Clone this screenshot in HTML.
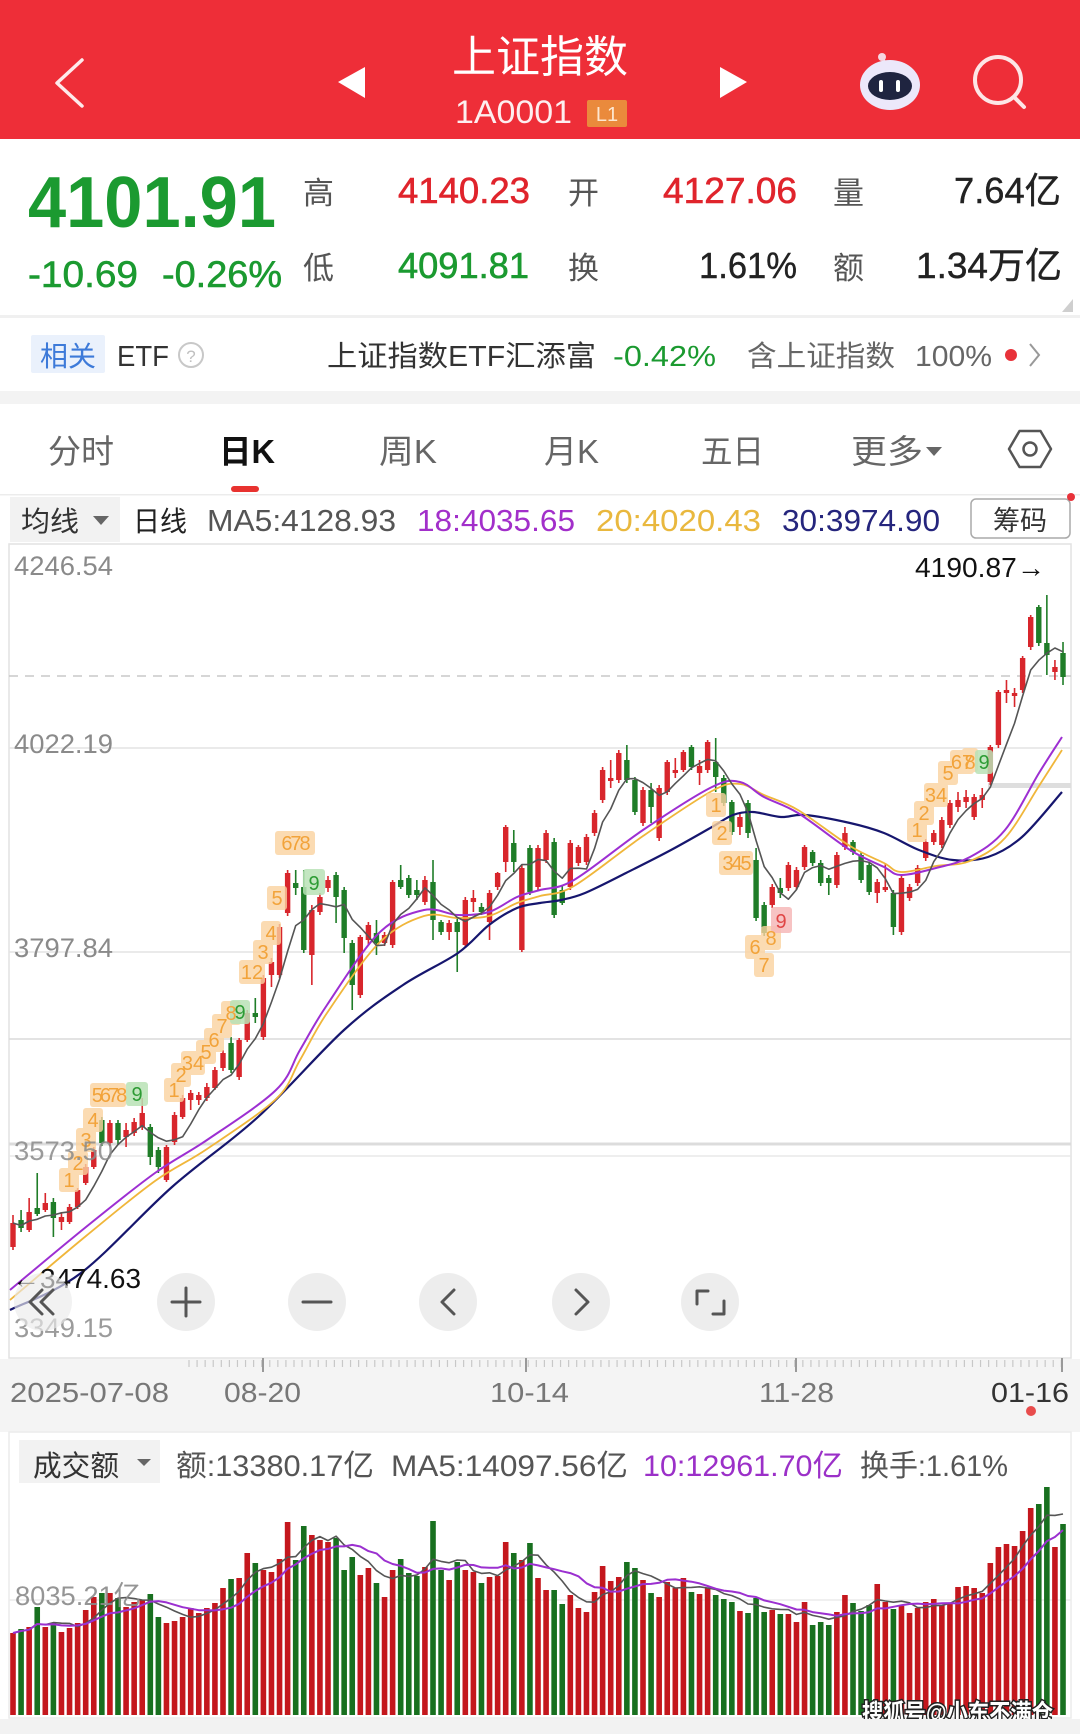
<!DOCTYPE html>
<html><head><meta charset="utf-8"><title>上证指数</title>
<style>
html,body{margin:0;padding:0;background:#fff;width:1080px;height:1734px;overflow:hidden;}
svg text{font-family:"Liberation Sans","Noto Sans CJK SC",sans-serif;}
</style></head>
<body>
<svg id="s" width="1080" height="1734" viewBox="0 0 1080 1734" xmlns="http://www.w3.org/2000/svg">
<defs><clipPath id="cp"><rect x="9" y="544" width="1062" height="814"/></clipPath></defs>
<rect width="1080" height="1734" fill="#fff"/>
<!-- header -->
<rect width="1080" height="139" fill="#ee2e38"/>
<polyline points="82,60 57,83 82,106" fill="none" stroke="#fff" stroke-width="3.5" stroke-linecap="round" stroke-linejoin="round" opacity=".9"/>
<polygon points="365,67 338,82 365,98" fill="#fff"/>
<polygon points="720,67 747,82 720,98" fill="#fff"/>
<text x="540" y="72" font-size="44" fill="#fff" text-anchor="middle">上证指数</text>
<text x="455" y="123" font-size="32" fill="#fff" opacity=".92" textLength="117" lengthAdjust="spacingAndGlyphs">1A0001</text>
<rect x="587" y="100" width="40" height="27" fill="#ea8a3c" rx="2"/>
<text x="607" y="121" font-size="20" fill="#fde7d0" text-anchor="middle">L1</text>
<line x1="883" y1="58" x2="886" y2="64" stroke="#f3d0dc" stroke-width="2"/>
<circle cx="882" cy="57" r="4" fill="#f6d6e0"/>
<ellipse cx="890" cy="85" rx="30" ry="25" fill="#ece8fa"/>
<ellipse cx="890" cy="86" rx="22" ry="14" fill="#1f2440"/>
<rect x="879" y="80" width="4" height="12" rx="2" fill="#fff"/>
<rect x="896" y="80" width="4" height="12" rx="2" fill="#fff"/>
<circle cx="998" cy="80" r="23" fill="none" stroke="#fde6e6" stroke-width="4"/>
<line x1="1014" y1="97" x2="1024" y2="107" stroke="#fde6e6" stroke-width="4" stroke-linecap="round"/>

<!-- quote -->
<text x="28" y="227" font-size="72" font-weight="bold" fill="#1b9a30" textLength="248" lengthAdjust="spacingAndGlyphs">4101.91</text>
<text x="28" y="287" font-size="37" fill="#1b9a30" stroke="#1b9a30" stroke-width=".6" textLength="110" lengthAdjust="spacingAndGlyphs">-10.69</text>
<text x="162" y="287" font-size="37" fill="#1b9a30" stroke="#1b9a30" stroke-width=".6" textLength="120" lengthAdjust="spacingAndGlyphs">-0.26%</text>
<text x="303" y="204" font-size="31" fill="#555">高</text>
<text x="303" y="279" font-size="31" fill="#555">低</text>
<text x="398" y="203" font-size="36" fill="#e0242c" stroke="#e0242c" stroke-width=".6" textLength="132" lengthAdjust="spacingAndGlyphs">4140.23</text>
<text x="398" y="278" font-size="36" fill="#1b9a30" stroke="#1b9a30" stroke-width=".6" textLength="131" lengthAdjust="spacingAndGlyphs">4091.81</text>
<text x="568" y="204" font-size="31" fill="#555">开</text>
<text x="568" y="279" font-size="31" fill="#555">换</text>
<text x="663" y="203" font-size="36" fill="#e0242c" stroke="#e0242c" stroke-width=".6" textLength="134" lengthAdjust="spacingAndGlyphs">4127.06</text>
<text x="699" y="278" font-size="36" fill="#222" stroke="#222" stroke-width=".4" textLength="98" lengthAdjust="spacingAndGlyphs">1.61%</text>
<text x="833" y="204" font-size="31" fill="#555">量</text>
<text x="833" y="279" font-size="31" fill="#555">额</text>
<text x="954" y="203" font-size="36" fill="#222" stroke="#222" stroke-width=".4" textLength="107" lengthAdjust="spacingAndGlyphs">7.64亿</text>
<text x="916" y="278" font-size="36" fill="#222" stroke="#222" stroke-width=".4" textLength="146" lengthAdjust="spacingAndGlyphs">1.34万亿</text>
<polygon points="1073,299 1073,312 1062,312" fill="#cfcfcf"/>
<rect x="0" y="315" width="1080" height="3" fill="#f0f0f0"/>

<!-- ETF row -->
<rect x="31" y="335" width="74" height="38" fill="#eaf1fc" rx="2"/>
<text x="40" y="366" font-size="28" fill="#3d7ad9" textLength="56" lengthAdjust="spacingAndGlyphs">相关</text>
<text x="117" y="366" font-size="29" fill="#333" textLength="52" lengthAdjust="spacingAndGlyphs">ETF</text>
<circle cx="191" cy="355" r="12" fill="none" stroke="#c8c8c8" stroke-width="2"/>
<text x="191" y="362" font-size="17" fill="#c0c0c0" text-anchor="middle">?</text>
<text x="327" y="366" font-size="29" fill="#333" textLength="269" lengthAdjust="spacingAndGlyphs">上证指数ETF汇添富</text>
<text x="613" y="366" font-size="29" fill="#1b9a30" textLength="103" lengthAdjust="spacingAndGlyphs">-0.42%</text>
<text x="747" y="366" font-size="29" fill="#666" textLength="148" lengthAdjust="spacingAndGlyphs">含上证指数</text>
<text x="915" y="366" font-size="29" fill="#666" textLength="77" lengthAdjust="spacingAndGlyphs">100%</text>
<circle cx="1011" cy="355" r="6" fill="#e8323a"/>
<polyline points="1030,344 1039,355 1030,366" stroke="#999" stroke-width="2" fill="none"/>
<rect x="0" y="391" width="1080" height="13" fill="#f3f3f3"/>

<!-- tabs -->
<text x="48" y="463" font-size="33" fill="#666" textLength="66" lengthAdjust="spacingAndGlyphs">分时</text>
<text x="219" y="463" font-size="33" fill="#111" font-weight="bold" textLength="56" lengthAdjust="spacingAndGlyphs">日K</text>
<text x="379" y="463" font-size="33" fill="#666" textLength="58" lengthAdjust="spacingAndGlyphs">周K</text>
<text x="544" y="463" font-size="33" fill="#666" textLength="55" lengthAdjust="spacingAndGlyphs">月K</text>
<text x="701" y="463" font-size="33" fill="#666" textLength="63" lengthAdjust="spacingAndGlyphs">五日</text>
<text x="851" y="463" font-size="33" fill="#666" textLength="72" lengthAdjust="spacingAndGlyphs">更多</text>
<polygon points="926,447 942,447 934,456" fill="#666"/>
<polygon points="1009,449 1019.5,431 1040.5,431 1051,449 1040.5,467 1019.5,467" fill="none" stroke="#555" stroke-width="2.5" stroke-linejoin="round"/>
<circle cx="1030" cy="449" r="6.5" fill="none" stroke="#555" stroke-width="2.5"/>
<rect x="231" y="486" width="28" height="6" rx="3" fill="#e8322f"/>
<rect x="0" y="494" width="1080" height="1.5" fill="#ececec"/>

<!-- MA legend -->
<rect x="10" y="497" width="110" height="45" fill="#f2f2f2"/>
<text x="21" y="531" font-size="28" fill="#333" textLength="58" lengthAdjust="spacingAndGlyphs">均线</text>
<polygon points="93,516 109,516 101,525" fill="#666"/>
<text x="133" y="531" font-size="28" fill="#222" textLength="54" lengthAdjust="spacingAndGlyphs">日线</text>
<text x="207" y="531" font-size="31" fill="#555" textLength="189" lengthAdjust="spacingAndGlyphs">MA5:4128.93</text>
<text x="417" y="531" font-size="31" fill="#a22fca" textLength="158" lengthAdjust="spacingAndGlyphs">18:4035.65</text>
<text x="596" y="531" font-size="31" fill="#e9b83e" textLength="165" lengthAdjust="spacingAndGlyphs">20:4020.43</text>
<text x="782" y="531" font-size="31" fill="#25257d" textLength="158" lengthAdjust="spacingAndGlyphs">30:3974.90</text>
<rect x="971" y="499" width="99" height="39" rx="5" fill="#fff" stroke="#aaa" stroke-width="1.5"/>
<text x="1020" y="530" font-size="27" fill="#333" text-anchor="middle">筹码</text>
<circle cx="1071" cy="497" r="4" fill="#e8323a"/>

<!-- chart frame / grid -->
<rect x="9" y="544" width="1062" height="814" fill="#fff" stroke="#e2e2e2" stroke-width="1.5"/>
<line x1="9" y1="748" x2="1071" y2="748" stroke="#e4e4e4" stroke-width="1.5"/>
<line x1="9" y1="952" x2="1071" y2="952" stroke="#e4e4e4" stroke-width="1.5"/>
<line x1="9" y1="1039" x2="1071" y2="1039" stroke="#dadada" stroke-width="1.5"/>
<line x1="9" y1="1144" x2="1071" y2="1144" stroke="#dcdcdc" stroke-width="3"/>
<line x1="9" y1="1156" x2="1071" y2="1156" stroke="#e8e8e8" stroke-width="1.5"/>
<line x1="9" y1="676" x2="1071" y2="676" stroke="#c8c8c8" stroke-width="1.5" stroke-dasharray="9,7"/>
<rect x="988" y="783" width="83" height="5" fill="#dedede"/>

<g id="cd" clip-path="url(#cp)"></g>

<!-- TD tags -->
<g font-size="20" text-anchor="middle">
<g fill="#fbd3a0" opacity=".8">
<rect x="59" y="1168" width="20" height="24" rx="3"/><rect x="68" y="1151" width="20" height="24" rx="3"/><rect x="76" y="1128" width="20" height="24" rx="3"/><rect x="83" y="1108" width="20" height="24" rx="3"/><rect x="90" y="1083" width="36" height="24" rx="3"/>
<rect x="164" y="1078" width="20" height="24" rx="3"/><rect x="171" y="1063" width="20" height="24" rx="3"/><rect x="181" y="1051" width="24" height="24" rx="3"/><rect x="196" y="1040" width="20" height="24" rx="3"/><rect x="204" y="1028" width="20" height="24" rx="3"/><rect x="212" y="1014" width="20" height="24" rx="3"/><rect x="221" y="1001" width="20" height="24" rx="3"/>
<rect x="239" y="960" width="26" height="24" rx="3"/><rect x="253" y="940" width="20" height="24" rx="3"/><rect x="261" y="921" width="20" height="24" rx="3"/><rect x="267" y="886" width="20" height="24" rx="3"/><rect x="275" y="831" width="40" height="24" rx="3"/>
<rect x="706" y="793" width="20" height="24" rx="3"/><rect x="712" y="821" width="20" height="24" rx="3"/><rect x="719" y="851" width="34" height="24" rx="3"/><rect x="745" y="935" width="20" height="24" rx="3"/><rect x="754" y="953" width="20" height="24" rx="3"/><rect x="761" y="926" width="20" height="24" rx="3"/>
<rect x="907" y="818" width="20" height="24" rx="3"/><rect x="914" y="801" width="20" height="24" rx="3"/><rect x="924" y="783" width="24" height="24" rx="3"/><rect x="938" y="761" width="20" height="24" rx="3"/><rect x="950" y="750" width="24" height="24" rx="3"/><rect x="962" y="748" width="16" height="24" rx="3"/>
</g>
<g fill="#b9e2b6" opacity=".85">
<rect x="126" y="1082" width="22" height="24" rx="3"/><rect x="230" y="1000" width="20" height="24" rx="3"/><rect x="303" y="869" width="22" height="26" rx="3"/><rect x="975" y="750" width="18" height="24" rx="3"/>
</g>
<rect x="771" y="907" width="21" height="26" rx="3" fill="#f6b9b9" opacity=".85"/>
<g fill="#f2a33a">
<text x="69" y="1187">1</text><text x="78" y="1170">2</text><text x="86" y="1147">3</text><text x="93" y="1127">4</text><text x="108" y="1102" letter-spacing="-3">5678</text>
<text x="174" y="1097">1</text><text x="181" y="1082">2</text><text x="193" y="1070">34</text><text x="206" y="1059">5</text><text x="214" y="1047">6</text><text x="222" y="1033">7</text><text x="231" y="1020">8</text>
<text x="252" y="979">12</text><text x="263" y="959">3</text><text x="271" y="940">4</text><text x="277" y="905">5</text><text x="295" y="850" letter-spacing="-2">678</text>
<text x="716" y="812">1</text><text x="722" y="840">2</text><text x="736" y="870" letter-spacing="-2">345</text><text x="755" y="954">6</text><text x="764" y="972">7</text><text x="771" y="945">8</text>
<text x="917" y="837">1</text><text x="924" y="820">2</text><text x="936" y="802">34</text><text x="948" y="780">5</text><text x="962" y="769">67</text><text x="970" y="769">8</text>
</g>
<g fill="#2d9b34"><text x="137" y="1101">9</text><text x="240" y="1019">9</text><text x="314" y="890">9</text><text x="984" y="769">9</text></g>
<text x="781" y="928" fill="#e04545">9</text>
</g>

<!-- axis labels -->
<g font-size="27" fill="#8a8a8a">
<text x="14" y="575" textLength="99" lengthAdjust="spacingAndGlyphs">4246.54</text>
<text x="14" y="753" textLength="99" lengthAdjust="spacingAndGlyphs">4022.19</text>
<text x="14" y="957" textLength="99" lengthAdjust="spacingAndGlyphs">3797.84</text>
<text x="14" y="1160" textLength="99" lengthAdjust="spacingAndGlyphs" opacity=".85">3573.50</text>
<text x="14" y="1337" textLength="99" lengthAdjust="spacingAndGlyphs" opacity=".85">3349.15</text>
</g>
<text x="915" y="577" font-size="28" fill="#111" textLength="130" lengthAdjust="spacingAndGlyphs">4190.87→</text>
<text x="12" y="1288" font-size="28" fill="#111" textLength="129" lengthAdjust="spacingAndGlyphs">←3474.63</text>

<!-- buttons -->
<g fill="#ebebeb" opacity=".92">
<circle cx="43" cy="1302" r="29" opacity=".7"/><circle cx="186" cy="1302" r="29"/><circle cx="317" cy="1302" r="29"/><circle cx="448" cy="1302" r="29"/><circle cx="581" cy="1302" r="29"/><circle cx="710" cy="1302" r="29"/>
</g>
<g fill="none" stroke="#555" stroke-width="3" stroke-linecap="round" stroke-linejoin="round">
<polyline points="42,1290 30,1302 42,1314"/><polyline points="53,1290 41,1302 53,1314"/>
<line x1="172" y1="1302" x2="200" y2="1302"/><line x1="186" y1="1288" x2="186" y2="1316"/>
<line x1="303" y1="1302" x2="331" y2="1302"/>
<polyline points="454,1290 442,1302 454,1314"/>
<polyline points="576,1290 588,1302 576,1314"/>
<path d="M697,1304 V1291 H708"/><path d="M724,1301 V1314 H713"/>
</g>

<!-- date axis -->
<rect x="0" y="1359" width="1080" height="73" fill="#f4f4f4"/>
<g id="ticks"></g>
<g font-size="28" fill="#777">
<text x="10" y="1402" textLength="159" lengthAdjust="spacingAndGlyphs">2025-07-08</text>
<text x="224" y="1402" textLength="77" lengthAdjust="spacingAndGlyphs">08-20</text>
<text x="490" y="1402" textLength="79" lengthAdjust="spacingAndGlyphs">10-14</text>
<text x="759" y="1402" textLength="75" lengthAdjust="spacingAndGlyphs">11-28</text>
<text x="991" y="1402" textLength="78" lengthAdjust="spacingAndGlyphs" fill="#333">01-16</text>
</g>
<circle cx="1031" cy="1411" r="5" fill="#e84c4c"/>

<!-- volume panel -->
<rect x="9" y="1432" width="1062" height="286" fill="#fff" stroke="#ececec" stroke-width="1.5"/>
<rect x="19" y="1440" width="141" height="43" fill="#f2f2f2"/>
<text x="33" y="1476" font-size="29" fill="#333" textLength="86" lengthAdjust="spacingAndGlyphs">成交额</text>
<polygon points="137,1459 151,1459 144,1466" fill="#666"/>
<text x="176" y="1476" font-size="30" fill="#555" textLength="198" lengthAdjust="spacingAndGlyphs">额:13380.17亿</text>
<text x="391" y="1476" font-size="30" fill="#555" textLength="237" lengthAdjust="spacingAndGlyphs">MA5:14097.56亿</text>
<text x="643" y="1476" font-size="30" fill="#9b30c8" textLength="200" lengthAdjust="spacingAndGlyphs">10:12961.70亿</text>
<text x="860" y="1476" font-size="30" fill="#555" textLength="148" lengthAdjust="spacingAndGlyphs">换手:1.61%</text>
<line x1="9" y1="1600" x2="1071" y2="1600" stroke="#ececec" stroke-width="1.5"/>
<g id="vol"></g>
<text x="15" y="1605" font-size="27" fill="#8a8a8a" opacity=".9" textLength="126" lengthAdjust="spacingAndGlyphs">8035.21亿</text>
<text x="862" y="1721" font-size="24" font-weight="bold" fill="#fff" stroke="#222" stroke-width="3" paint-order="stroke" textLength="191" lengthAdjust="spacingAndGlyphs">搜狐号@小东不满仓</text>
<rect x="0" y="1719" width="1080" height="15" fill="#f2f2f2"/>
</svg>
<script>
(function(){
var NS="http://www.w3.org/2000/svg";
function el(t,a,p){var e=document.createElementNS(NS,t);for(var k in a)e.setAttribute(k,a[k]);p.appendChild(e);return e;}
var C=[[1,1223,1247,1215,1250],[0,1220,1228,1210,1232],[1,1212,1230,1198,1232],[0,1208,1214,1173,1216],[1,1203,1210,1193,1212],[0,1202,1218,1198,1237],[1,1217,1222,1212,1230],[1,1207,1222,1204,1224],[1,1190,1207,1188,1209],[1,1167,1183,1164,1185],
[1,1150,1167,1147,1169],[0,1120,1143,1117,1146],[1,1123,1143,1120,1146],[0,1123,1140,1120,1145],[1,1130,1137,1123,1147],[1,1122,1133,1118,1136],[1,1113,1127,1098,1130],[0,1127,1157,1124,1165],[0,1150,1167,1147,1173],[1,1147,1180,1145,1182],
[1,1115,1142,1112,1145],[1,1098,1117,1095,1119],[1,1093,1100,1090,1110],[1,1095,1100,1092,1105],[1,1087,1098,1083,1101],[1,1070,1088,1067,1090],[1,1053,1068,1050,1071],[0,1043,1070,1037,1073],[1,1040,1077,1038,1080],[1,1013,1040,1010,1042],
[0,1013,1017,998,1023],[1,978,1037,975,1040],[1,962,975,958,987],[1,927,975,924,978],[1,873,913,870,916],[0,883,888,870,895],[0,887,950,870,953],[1,910,955,905,985],[1,897,912,893,915],[1,880,888,876,892],
[0,875,897,872,923],[0,890,938,887,953],[0,943,985,940,1010],[1,937,995,935,998],[1,925,940,922,945],[0,933,943,920,955],[1,935,943,932,946],[1,882,945,880,948],[0,880,887,865,889],[0,878,895,875,898],
[0,890,895,880,900],[1,880,902,876,905],[0,882,920,860,940],[0,922,932,920,935],[1,923,932,920,940],[0,922,932,918,972],[1,900,945,897,948],[1,898,902,890,912],[0,907,912,903,915],[1,893,922,890,940],
[1,873,887,872,890],[1,827,862,825,872],[0,843,862,830,872],[1,868,950,865,952],[0,848,892,845,895],[1,848,887,845,890],[1,833,860,830,863],[0,842,915,838,918],[0,890,903,885,905],[1,843,887,840,890],
[1,847,863,845,866],[1,837,862,834,865],[1,813,833,810,836],[1,770,800,767,803],[1,778,781,760,788],[1,753,780,750,783],[0,760,780,745,783],[0,780,812,777,815],[1,790,823,787,826],[0,790,807,783,823],
[1,788,838,785,841],[1,762,792,760,795],[1,770,773,758,778],[1,752,770,750,772],[0,747,767,745,770],[1,766,773,760,785],[1,742,770,740,773],[0,762,777,738,792],[0,778,803,775,806],[0,802,832,800,835],
[1,817,827,812,835],[0,803,833,800,838],[0,860,918,848,921],[0,905,933,902,936],[1,887,905,884,908],[0,888,893,878,898],[1,865,888,862,891],[1,870,887,867,890],[1,847,867,845,870],[0,852,863,850,866],
[0,863,883,860,886],[0,878,883,875,895],[1,855,885,852,888],[1,833,847,827,850],[0,842,852,840,855],[0,855,880,852,883],[0,865,892,862,895],[1,882,893,879,903],[1,887,890,863,892],[0,893,927,890,935],
[1,878,932,875,935],[1,887,898,884,901],[1,868,883,865,886],[1,842,858,839,861],[1,833,842,830,845],[1,820,845,817,848],[1,803,825,800,828],[1,800,807,792,812],[1,797,802,790,808],[1,797,817,794,820],
[1,795,800,788,808],[1,747,782,745,785],[1,692,745,690,748],[1,690,693,680,703],[1,693,696,688,707],[1,658,690,656,693],[1,617,647,615,650],[0,607,643,605,646],[0,643,655,595,675],[1,667,672,660,680],[0,653,677,642,685]];
var V=[1633,1629,1627,1607,1627,1623,1632,1628,1623,1610,1597,1593,1593,1598,1607,1602,1600,1594,1617,1623,1621,1617,1608,1613,1608,1603,1588,1579,1578,1553,1563,1570,1572,1559,1522,1560,1526,1535,1540,1542,1538,1570,1557,1575,1568,1583,1597,1570,1559,1573,1576,1567,1521,1570,1580,1562,1570,1572,1583,1577,1576,1542,1553,1560,1543,1578,1590,1590,1604,1595,1608,1612,1592,1566,1581,1577,1562,1568,1580,1593,1597,1582,1588,1578,1592,1594,1588,1595,1599,1602,1611,1613,1598,1612,1610,1614,1614,1622,1602,1625,1622,1625,1612,1595,1603,1611,1605,1584,1602,1609,1606,1613,1608,1602,1599,1605,1603,1587,1586,1588,1593,1563,1547,1544,1546,1531,1508,1504,1487,1547,1524];
function X(i){return 13+i*8.077;}
function smooth(p){var d="M"+p[0][0]+","+p[0][1];for(var i=0;i<p.length-1;i++){var p0=p[i-1]||p[i],p1=p[i],p2=p[i+1],p3=p[i+2]||p2;var c1x=p1[0]+(p2[0]-p0[0])/6,c1y=p1[1]+(p2[1]-p0[1])/6,c2x=p2[0]-(p3[0]-p1[0])/6,c2y=p2[1]-(p3[1]-p1[1])/6;d+=" C"+c1x.toFixed(1)+","+c1y.toFixed(1)+" "+c2x.toFixed(1)+","+c2y.toFixed(1)+" "+p2[0]+","+p2[1];}return d;}
var g=document.getElementById('cd');
C.forEach(function(c,i){var x=X(i);var col=c[0]?'#d8262c':'#1f7d28';
 el('line',{x1:x,x2:x,y1:c[3],y2:c[4],stroke:col,'stroke-width':1.6},g);
 el('rect',{x:x-2.7,y:c[1],width:5.4,height:Math.max(1.6,c[2]-c[1]),fill:col},g);});
var navy=[[10,1310],[81,1273],[172,1187],[258,1117],[344,1030],[403,985],[458,953],[489,925],[517,908],[540,903],[561,900],[585,893],[626,873],[671,850],[712,827],[733,815],[753,812],[781,817],[805,815],[850,823],[884,833],[919,850],[953,860],[988,857],[1022,837],[1062,792]];
var orange=[[10,1300],[86,1236],[155,1181],[207,1149],[276,1099],[300,1060],[327,1013],[379,943],[424,916],[458,918],[489,916],[517,903],[540,896],[574,886],[643,836],[712,791],[740,784],[764,795],[798,810],[850,846],[884,863],[901,872],[936,866],[970,861],[1005,838],[1039,786],[1062,750]];
var purple=[[10,1290],[86,1227],[155,1173],[207,1140],[276,1090],[300,1050],[327,1005],[379,933],[424,910],[458,915],[489,912],[517,897],[540,890],[574,880],[643,830],[712,787],[740,782],[764,797],[798,813],[850,850],[884,867],[901,875],[936,868],[970,857],[1005,830],[1039,773],[1062,737]];
el('path',{d:smooth(navy),fill:'none',stroke:'#16166e','stroke-width':2.2},g);
el('path',{d:smooth(orange),fill:'none',stroke:'#f0b63a','stroke-width':1.8},g);
el('path',{d:smooth(purple),fill:'none',stroke:'#9d2fd2','stroke-width':2},g);
var cl=C.map(function(c){return c[0]?c[1]:c[2];});
var pts=[];for(var i=0;i<cl.length;i++){var s=0,n=0;for(var j=Math.max(0,i-4);j<=i;j++){s+=cl[j];n++;}pts.push(X(i).toFixed(1)+","+(s/n).toFixed(1));}
el('polyline',{points:pts.join(' '),fill:'none',stroke:'#555','stroke-width':1.6,'stroke-linejoin':'round'},g);
var t=document.getElementById('ticks');
for(var x=189;x<1068;x+=8.077){el('line',{x1:x,x2:x,y1:1360,y2:1367,stroke:'#c8c8c8','stroke-width':1.2},t);}
[263,526,796,1062].forEach(function(x){el('line',{x1:x,x2:x,y1:1358,y2:1372,stroke:'#999','stroke-width':2},t);});
var vg=document.getElementById('vol');
V.forEach(function(v,i){var x=X(i);var col=C[i][0]?'#c4171d':'#18701f';el('rect',{x:x-2.8,y:v,width:5.6,height:1715-v,fill:col},vg);});
function vma(n){var p=[];for(var i=0;i<V.length;i++){var s=0,k=0;for(var j=Math.max(0,i-n+1);j<=i;j++){s+=1715-V[j];k++;}p.push(X(i).toFixed(1)+","+(1715-s/k).toFixed(1));}return p.join(' ');}
el('polyline',{points:vma(5),fill:'none',stroke:'#555','stroke-width':1.6,'stroke-linejoin':'round'},vg);
el('polyline',{points:vma(10),fill:'none',stroke:'#9b30d0','stroke-width':2,'stroke-linejoin':'round'},vg);
})();
</script>
</body></html>
